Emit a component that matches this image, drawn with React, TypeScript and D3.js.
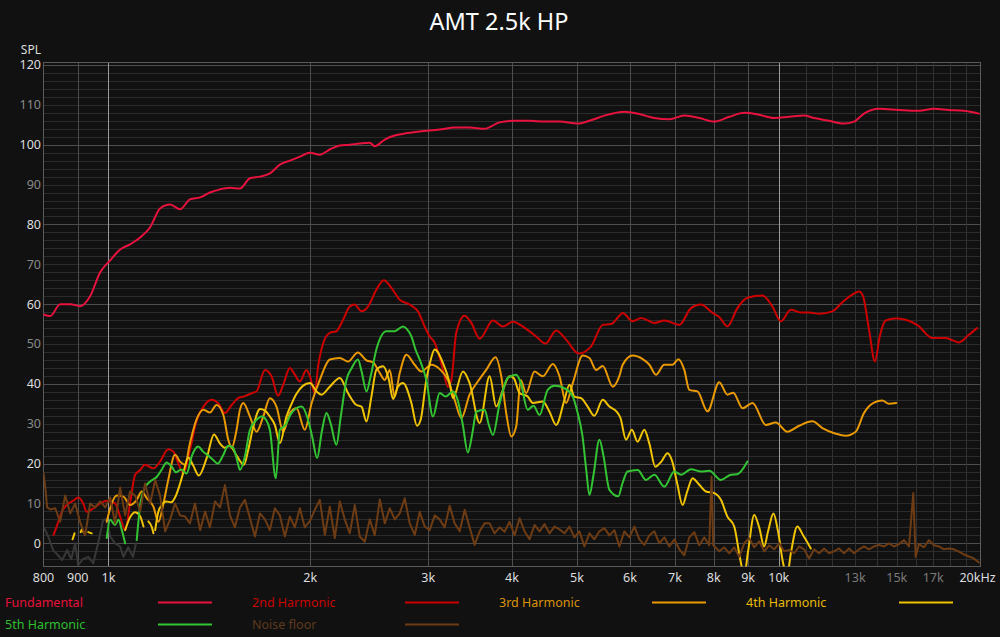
import * as d3 from "d3";

type Pt = [number, number | null];

// frequency (Hz), SPL (dB)
const fundamental: Pt[] = [
  [800, 57.4], [819, 57], [847, 60], [877, 60], [907, 59.5], [939, 62], [972, 68], [1006, 71], [1041, 73.7],
  [1077, 75], [1115, 76.7], [1154, 79.3], [1194, 84], [1236, 85], [1279, 83.8], [1323, 86.3], [1370, 86.8],
  [1417, 88], [1467, 88.8], [1518, 89.2], [1571, 89], [1626, 91.6], [1683, 92], [1741, 92.8], [1802, 95],
  [1865, 96], [1930, 97], [1998, 98], [2067, 97.5], [2139, 98.8], [2214, 99.8], [2291, 100], [2371, 100.3],
  [2454, 100.5], [2496, 99.6], [2584, 101.3], [2673, 102.3], [2767, 102.8], [2913, 103.3], [3120, 103.8],
  [3285, 104.3], [3458, 104.3], [3641, 104], [3833, 105.6], [4036, 106], [4248, 106], [4473, 105.8],
  [4709, 105.8], [5008, 105.3], [5219, 106], [5494, 107.3], [5885, 108.3], [6196, 107.7], [6523, 106.7],
  [6867, 106.4], [7230, 107.3], [7612, 106.7], [8013, 105.8], [8437, 107], [8882, 108], [9351, 107.5],
  [9845, 106.7], [10365, 107], [10912, 107.3], [11293, 106.7], [11889, 106], [12517, 105.3], [12953, 105.8],
  [13405, 107.8], [14113, 109], [15116, 108.7], [16189, 108.5], [17044, 109], [17944, 108.7], [18891, 108.5],
  [19889, 107.8],
];

const harmonic2: Pt[] = [
  [828, 2.1], [837, 4.2], [852, 7.9], [866, 9.6], [887, 10.7], [902, 11.5], [917, 10], [928, 7.9], [950, 8.8],
  [972, 10], [994, 10.7], [1023, 10], [1041, 6.7], [1059, 3.3], [1077, 10], [1096, 17.2], [1115, 18.4],
  [1134, 19.7], [1167, 18.8], [1194, 20.5], [1228, 23.6], [1250, 23], [1271, 20.1], [1294, 17.6], [1323, 23.4],
  [1353, 30.6], [1386, 34.3], [1425, 36], [1457, 35.2], [1492, 32.7], [1527, 34.7], [1561, 36.4], [1589, 36.8],
  [1645, 37.8], [1663, 38.1], [1712, 43.5], [1751, 41.9], [1791, 37], [1823, 39.8], [1865, 44], [1897, 42.3],
  [1930, 40.6], [1974, 43.5], [1998, 41.9], [2032, 37.7], [2055, 44.4], [2091, 50.2], [2139, 52.8],
  [2188, 53.2], [2239, 56.1], [2291, 59.4], [2330, 59.9], [2385, 58.2], [2439, 59.4], [2510, 63.6], [2575, 66],
  [2643, 64.1], [2720, 61.1], [2815, 59.9], [2895, 58.2], [2963, 54.4], [3015, 51.9], [3067, 50.3],
  [3156, 43.5], [3209, 39.3], [3248, 41], [3303, 52.8], [3399, 57.1], [3478, 55.3], [3579, 51.3], [3746, 55.9],
  [3877, 54.4], [4012, 55.6], [4199, 53.8], [4346, 51.9], [4488, 50.1], [4655, 53.4], [4817, 51.1],
  [5029, 47.6], [5249, 49.4], [5463, 54.8], [5622, 55], [5785, 57.1], [5851, 57.8], [6055, 55.7], [6232, 56.5],
  [6522, 55.3], [6750, 55.9], [7107, 54.8], [7398, 59], [7656, 59.9], [7967, 57.8], [8152, 56.8], [8384, 54.4],
  [8677, 59], [8980, 61.6], [9458, 62.2], [9787, 59.4], [10073, 55.7], [10425, 58.6], [10788, 57.9],
  [11101, 57.9], [11488, 57.6], [12025, 58.2], [12444, 60.5], [12878, 62.4], [13177, 63.2], [13359, 62],
  [13637, 53.6], [13918, 45.6], [14147, 51.9], [14438, 55.9], [14942, 56.4], [15464, 56.1], [16089, 54.8],
  [16945, 51.5], [17738, 51.5], [18570, 50.4], [19218, 52.3], [19766, 54],
];

const harmonic3: Pt[] = [
  [994, 5.4], [1006, 8.8], [1029, 12], [1053, 11.7], [1077, 9.6], [1102, 10.9], [1121, 13], [1141, 11.3],
  [1167, 9.2], [1187, 5.4], [1208, 10], [1228, 15.9], [1257, 22.2], [1279, 20.5], [1301, 19.7], [1323, 25.1],
  [1353, 31], [1386, 33.5], [1417, 32.8], [1450, 34.7], [1484, 32.2], [1509, 26], [1527, 23.9], [1553, 28.5],
  [1571, 33.5], [1589, 35.2], [1626, 31.8], [1663, 28], [1702, 31.8], [1741, 36.4], [1781, 34.3], [1823, 28],
  [1865, 32.7], [1908, 33.9], [1963, 28.5], [2010, 35.2], [2067, 41], [2139, 46.1], [2214, 46.5], [2277, 45.6],
  [2356, 47.9], [2426, 45.9], [2482, 45.4], [2540, 42.7], [2584, 41], [2628, 43.5], [2673, 36.8], [2720, 42.7],
  [2783, 47.3], [2863, 44.8], [2930, 43.1], [3032, 44.8], [3120, 43.7], [3209, 41], [3285, 36], [3361, 31.4],
  [3458, 37.3], [3557, 40.6], [3661, 43.5], [3780, 46.7], [3855, 41.9], [3921, 32.7], [3990, 26.8],
  [4058, 29.3], [4122, 41], [4199, 37.7], [4321, 43.1], [4447, 41.9], [4602, 45], [4709, 41.9], [4817, 35.2],
  [4929, 40.2], [5100, 47.1], [5219, 46.5], [5339, 43.5], [5463, 44.5], [5654, 39.3], [5785, 42], [5851, 44.8],
  [6055, 47.1], [6267, 46.2], [6412, 44.8], [6559, 42.3], [6750, 44.8], [6945, 44.8], [7087, 46.2],
  [7229, 43.5], [7355, 38.5], [7565, 38.1], [7829, 33.1], [8152, 40.4], [8384, 37.3], [8553, 37.8],
  [8831, 33.9], [9139, 35.2], [9566, 29.7], [9900, 30.3], [10300, 28], [10726, 29.5], [11228, 30.6],
  [11619, 28.9], [12162, 27.5], [12587, 27], [13026, 28], [13404, 32.7], [13872, 35.3], [14274, 35.8],
  [14606, 35], [14973, 35.2],
];

const harmonic4: Pt[] = [
  [884, 1], [890, 2.5], [895, null],
  [909, 2.8], [913, 3.5], [918, 2.7], [925, null],
  [933, 2.8], [944, 2.5], [950, null],
  [1059, 3.3], [1077, 6.5], [1096, 7.8], [1115, 6.8], [1128, 4.2], [1140, null],
  [1147, 5.5], [1161, 4], [1167, 2.5], [1170, null],
  [1174, 3.3], [1187, 7.9], [1201, 9.6], [1219, 10.5], [1240, 10.3], [1261, 12], [1279, 15], [1297, 18.5],
  [1315, 21.5], [1338, 19.5], [1364, 17], [1402, 21.5], [1437, 27.3], [1467, 25], [1492, 24], [1518, 24.5],
  [1553, 22], [1593, 19.7], [1616, 23.4], [1645, 29.3], [1683, 33.7], [1712, 33.3], [1741, 31.8],
  [1771, 29.7], [1802, 25.1], [1843, 31.8], [1876, 35], [1908, 37.5], [1950, 39.5], [1998, 40.2],
  [2044, 38.1], [2079, 37.3], [2139, 39.3], [2214, 41.5], [2277, 37.7], [2344, 34.7], [2385, 34.3],
  [2426, 30.6], [2468, 36.8], [2510, 43.5], [2569, 44.4], [2621, 41], [2658, 36.2], [2703, 39.3],
  [2751, 40.2], [2831, 35.2], [2886, 29.5], [2923, 31], [2980, 41], [3015, 45], [3067, 48.6], [3156, 45.2],
  [3229, 40.2], [3266, 36.4], [3380, 43.1], [3458, 40.2], [3579, 30.2], [3704, 41.9], [3789, 34.3],
  [3877, 38.5], [3967, 41.9], [4022, 41.5], [4105, 37.7], [4222, 36.8], [4296, 35.2], [4447, 35.6],
  [4550, 33], [4655, 29.7], [4790, 36], [4873, 39.8], [4957, 36.8], [5072, 36.4], [5187, 34.3], [5309, 32],
  [5463, 36], [5590, 34.3], [5725, 33.1], [5805, 31.5], [5918, 26], [6038, 28.5], [6158, 25.5], [6303, 28.5],
  [6412, 25], [6544, 19.2], [6682, 20.5], [6825, 22.6], [6938, 20.5], [7056, 15], [7188, 9.6], [7302, 13],
  [7439, 16.3], [7583, 15], [7787, 13], [8013, 12.6], [8199, 10.9], [8384, 6.7], [8583, 4.2], [8761, -4],
  [8882, -8], [9001, -2], [9192, 7.1], [9351, 4], [9513, -0.8], [9640, 3], [9820, 7.5], [9976, 3],
  [10153, -5], [10290, -8], [10437, -2], [10660, 4.2], [10874, 2], [11165, -1.3],
];

const harmonic5: Pt[] = [
  [994, 1.3], [1006, 5.9], [1023, 4.6], [1035, 5.9], [1047, 3.3], [1059, 0], [1070, null],
  [1102, 0.8], [1115, 9.5], [1134, 14], [1154, 15.5], [1181, 16.7], [1201, 18.5], [1221, 20.3], [1243, 19.2],
  [1261, 17.8], [1283, 18.5], [1308, 17.5], [1332, 22], [1361, 24.3], [1384, 23], [1409, 22], [1433, 20.9],
  [1456, 20], [1482, 22], [1509, 24.5], [1534, 24], [1555, 21], [1571, 18.4], [1598, 21.8], [1626, 28.5],
  [1654, 30.5], [1693, 31.8], [1718, 31], [1741, 28.5], [1777, 16.3], [1802, 28.5], [1833, 29.5],
  [1876, 32.7], [1941, 34.3], [1985, 31], [2012, 27], [2048, 21.4], [2081, 28], [2115, 32.7], [2146, 30],
  [2188, 24.7], [2222, 32], [2265, 41], [2307, 44], [2356, 46.1], [2387, 43], [2426, 38.1], [2462, 42],
  [2510, 48.6], [2598, 53.2], [2673, 53.2], [2751, 54.4], [2786, 53.8], [2831, 51.9], [2873, 48.5],
  [2913, 46.1], [2980, 41], [3049, 31.8], [3120, 37.7], [3184, 36.8], [3266, 38.1], [3318, 36], [3376, 30],
  [3437, 22.8], [3494, 28], [3538, 33], [3641, 33.5], [3690, 30], [3746, 27.2], [3833, 35], [3942, 41.5],
  [4058, 42.3], [4119, 40.5], [4222, 33.5], [4307, 34.5], [4397, 32.2], [4522, 38.5], [4629, 39.5],
  [4790, 38.9], [4929, 36.8], [5007, 33], [5095, 27], [5165, 18], [5219, 12.1], [5291, 17], [5401, 26],
  [5476, 22], [5590, 13.4], [5763, 11.8], [5845, 15], [5950, 18], [6158, 18.4], [6339, 15.9], [6523, 17.2],
  [6750, 14.2], [6986, 18], [7148, 17.2], [7398, 18.6], [7656, 18], [7877, 18.2], [8199, 15.9], [8486, 17.2],
  [8669, 17.3], [8980, 20.5],
];

const noiseFloor: Pt[] = [
  [800, 17.6], [805, 14], [810, 9], [819, 8.5], [833, 8.8], [847, 5.4], [862, 12], [877, 7.5], [892, 10],
  [907, 5.4], [923, 2], [939, 10], [955, 9], [972, 10.5], [989, 9], [1006, 11.5], [1023, 5], [1041, 14],
  [1059, 7], [1077, 13], [1096, 12], [1115, 8], [1134, 15], [1154, 10], [1174, 15.9], [1194, 12], [1215, 3],
  [1236, 6], [1257, 10], [1279, 7], [1301, 6.7], [1323, 5], [1346, 10], [1370, 3.3], [1394, 8], [1417, 4],
  [1442, 10.5], [1467, 9], [1492, 14.6], [1518, 7], [1544, 4], [1571, 9], [1598, 10.9], [1626, 6.3],
  [1654, 1.7], [1683, 7.5], [1712, 6], [1741, 3.3], [1771, 8.8], [1802, 7], [1833, 1.7], [1865, 6.7],
  [1897, 4], [1930, 8.8], [1963, 4], [1998, 5.6], [2032, 8.4], [2067, 10.9], [2103, 2.1], [2139, 9.2],
  [2176, 1.3], [2214, 10.5], [2252, 6], [2291, 2.5], [2331, 9.6], [2371, 1.7], [2412, 0.4], [2454, 6],
  [2496, 2], [2540, 11], [2584, 5], [2628, 8.8], [2674, 6], [2720, 7.5], [2767, 11.3], [2815, 5], [2864, 2.1],
  [2913, 7.9], [2964, 4.2], [3015, 3.3], [3067, 7], [3120, 6], [3174, 4], [3229, 9.4], [3285, 5], [3342, 3],
  [3400, 8.4], [3458, 4], [3518, -0.4], [3579, 3], [3641, 5], [3704, 5], [3768, 2.5], [3833, 4], [3899, 2.9],
  [3967, 5.4], [4036, 2], [4105, 6.3], [4176, 3], [4248, 1], [4322, 4.6], [4397, 3], [4473, 4.8], [4550, 2.5],
  [4629, 4.2], [4709, 3.5], [4790, 2.5], [4873, 4.2], [4957, 1.5], [5043, 3], [5130, -0.8], [5219, 2.5],
  [5309, 1], [5401, 3], [5494, 3.8], [5590, 2], [5686, 3.3], [5785, -0.8], [5885, 3], [5987, 1.5],
  [6090, 4.2], [6196, 1], [6303, -0.4], [6412, 2], [6523, 3], [6636, 0], [6750, 1.5], [6867, -0.8],
  [6986, 1], [7107, -1.5], [7230, -3], [7355, 1.5], [7482, 2.8], [7612, -0.5], [7743, 1.5], [7877, -0.5],
  [7939, 16.7], [7986, -0.5], [8096, -1.5], [8152, -2], [8293, -1], [8437, -2.5], [8583, -1], [8731, -3.4],
  [8882, 0], [9036, 1.3], [9192, -1], [9351, 0.5], [9513, -2], [9677, -0.5], [9845, -1.5], [10015, 0],
  [10188, -2], [10365, -1.7], [10544, -2.5], [10726, -0.8], [10912, -1.5], [11101, -3.8], [11293, -1.5],
  [11488, -2.5], [11687, -1.3], [11889, -2.5], [12095, -2], [12304, -1.3], [12517, -2.5], [12733, -1.3],
  [12953, -2.5], [13177, -1.5], [13405, -0.8], [13637, -1.5], [13873, -0.8], [14113, -0.4], [14357, -0.8],
  [14606, 0], [14858, -0.8], [15116, -0.2], [15377, 0.8], [15643, -0.8], [15875, 12.6], [16006, -3.4],
  [16189, -0.2], [16469, -1], [16754, 0.8], [17044, -0.5], [17339, -0.8], [17639, -1.5], [17944, -1.3],
  [18254, -1.5], [18570, -2.1], [18891, -2.8], [19218, -3.3], [19550, -3.8], [19889, -4.8],
];

// faint unlabelled trace at the low end
const residual: Pt[] = [
  [802, 3.8], [813, 1.7], [827, -1.7], [841, -3], [853, -4.2], [868, -1.7], [880, -4], [892, 0], [901, -5.5],
  [916, -4], [933, -3.4], [949, -5], [965, 0], [982, 5.9], [994, 6], [1006, 1.7], [1023, 0], [1041, -0.8],
  [1053, -3.4], [1070, -1], [1088, -3.4], [1099, 0],
];

const seriesNames = ["Fundamental", "2nd Harmonic", "3rd Harmonic", "4th Harmonic", "5th Harmonic", "Noise floor"];
const seriesColors = ["#e8123e", "#cc0000", "#e89a00", "#f0c400", "#33c433", "#6e3c14"];
const legendTextColors = ["#e8103a", "#c80000", "#d99400", "#e6bb00", "#2fbf2f", "#5e3a1c"];

const splTicks = [0, 10, 20, 30, 40, 50, 60, 70, 80, 90, 100, 110, 120];
const gridFreqs = [900, 1000, 2000, 3000, 4000, 5000, 6000, 7000, 8000, 9000, 10000,
  11000, 12000, 13000, 14000, 15000, 16000, 17000, 18000, 19000];
const freqLabels: [number, string][] = [
  [800, "800"], [900, "900"], [1000, "1k"], [2000, "2k"], [3000, "3k"], [4000, "4k"], [5000, "5k"],
  [6000, "6k"], [7000, "7k"], [8000, "8k"], [9000, "9k"], [10000, "10k"], [13000, "13k"], [15000, "15k"],
  [17000, "17k"], [20000, "20kHz"],
];

export default function App() {
  const W = 1000;
  const H = 637;
  const left = 43.5, right = 980.5, top = 62.5, bottom = 566.5;

  const x = d3.scaleLog().domain([800, 20000]).range([left, right]);
  const y = d3.scaleLinear().domain([0, 120]).range([543.3, 65]);
  const cy = (v: number) => Math.round(y(v)) + 0.5;
  const cx = (f: number) => Math.round(x(f)) + 0.5;

  const smooth = d3.line<Pt>()
    .defined((d) => d[1] != null)
    .x((d) => x(d[0]))
    .y((d) => y(d[1] as number))
    .curve(d3.curveMonotoneX);
  const jagged = d3.line<Pt>()
    .defined((d) => d[1] != null)
    .x((d) => x(d[0]))
    .y((d) => y(d[1] as number));

  const minor = d3.range(-4, 121, 2).filter((v) => v % 20 !== 0);
  const major = [0, 20, 40, 60, 80, 100, 120];

  const curves: [Pt[], string][] = [
    [fundamental, seriesColors[0]],
    [harmonic2, seriesColors[1]],
    [harmonic3, seriesColors[2]],
    [harmonic4, seriesColors[3]],
    [harmonic5, seriesColors[4]],
  ];

  return (
    <svg width={W} height={H} style={{ position: "absolute", left: 0, top: 0, display: "block" }}
      fontFamily="'Noto Sans', 'Open Sans', sans-serif">
      <defs>
        <clipPath id="plotClip">
          <rect x={left} y={top} width={right - left} height={bottom - top} />
        </clipPath>
      </defs>
      <rect width={W} height={H} fill="#111111" />

      <text x={499} y={30} textAnchor="middle" fill="#ffffff" fontSize={23.5}>AMT 2.5k HP</text>

      {/* horizontal grid */}
      {minor.map((v) => (
        <line key={"m" + v} x1={left} x2={right} y1={cy(v)} y2={cy(v)} stroke="#2b2b2b" strokeWidth={1} />
      ))}
      {major.map((v) => (
        <line key={"M" + v} x1={left} x2={right} y1={cy(v)} y2={cy(v)} stroke="#4d4d4d" strokeWidth={1} />
      ))}

      {/* vertical grid */}
      {gridFreqs.map((f) => (
        <line key={"v" + f} x1={cx(f)} x2={cx(f)} y1={top} y2={bottom}
          stroke={f === 1000 || f === 10000 ? "#9a9a9a" : f > 10000 ? "#303030" : "#4d4d4d"} strokeWidth={1} />
      ))}

      {/* frame */}
      <rect x={left} y={top} width={right - left} height={bottom - top} fill="none" stroke="#5a5a5a" strokeWidth={1} />

      {/* curves */}
      <g clipPath="url(#plotClip)" fill="none" strokeLinejoin="round" strokeLinecap="round">
        <path d={jagged(residual) || ""} stroke="#383838" strokeWidth={2} />
        {curves.map(([data, color], i) => (
          <path key={i} d={smooth(data) || ""} stroke={color} strokeWidth={2} />
        ))}
        <path d={jagged(noiseFloor) || ""} stroke={seriesColors[5]} strokeWidth={2} />
      </g>

      {/* y axis labels */}
      <text x={41} y={54} textAnchor="end" fill="#dddddd" fontSize={12}>SPL</text>
      {splTicks.map((v) => (
        <text key={"yl" + v} x={41} y={y(v)} dy="0.35em" textAnchor="end" fontSize={12.5}
          fill={v % 20 === 0 ? "#dddddd" : "#8a8a8a"}>{v}</text>
      ))}

      {/* x axis labels */}
      {freqLabels.map(([f, label]) => (
        <text key={"xl" + f} x={x(f) - (f === 20000 ? 3 : 0)} y={582} textAnchor="middle" fontSize={12.5}
          fill={f === 13000 || f === 15000 || f === 17000 ? "#7a7a7a" : "#dddddd"}>{label}</text>
      ))}

      {/* legend */}
      {seriesNames.map((name, i) => {
        const col = i % 4;
        const row = Math.floor(i / 4);
        const ly = 602.5 + row * 22;
        return (
          <g key={name}>
            <text x={5 + col * 247} y={ly} dy="0.35em" fontSize={12.5} fill={legendTextColors[i]}>{name}</text>
            <line x1={158 + col * 247} x2={212 + col * 247} y1={ly} y2={ly} stroke={seriesColors[i]} strokeWidth={2} />
          </g>
        );
      })}
    </svg>
  );
}
